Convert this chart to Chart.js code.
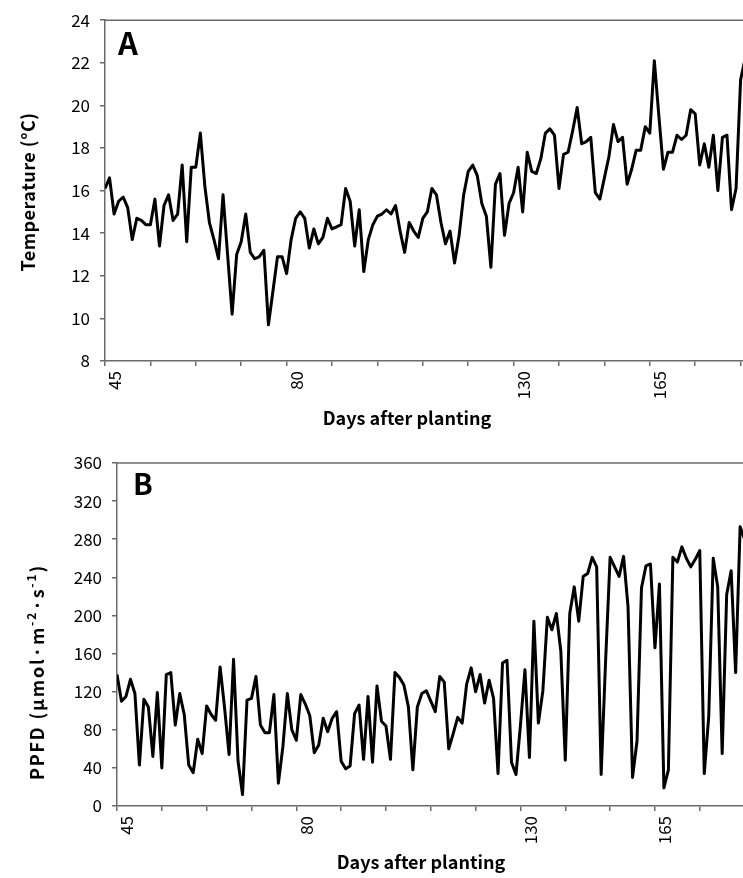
<!DOCTYPE html>
<html>
<head>
<meta charset="utf-8">
<script src="https://cdn.jsdelivr.net/npm/chart.js@4.4.1/dist/chart.umd.min.js"></script>
<style>
  html, body { margin: 0; padding: 0; background: #fff; }
  body { width: 743px; height: 878px; overflow: hidden; position: relative; }
  .panel { position: absolute; left: 0; }
  #panelA { top: 0; width: 766px; height: 440px; }
  #panelB { top: 440px; width: 770px; height: 438px; }
</style>
</head>
<body>
<div class="panel" id="panelA"><canvas id="tempChart"></canvas></div>
<div class="panel" id="panelB"><canvas id="ppfdChart"></canvas></div>
<script>
// daily mean air temperature (A) and daily PPFD (B), one value per record
const tempValues = [
  16.1, 16.6, 14.9, 15.5, 15.7, 15.2, 13.7, 14.7, 14.6, 14.4,
  14.4, 15.6, 13.4, 15.3, 15.8, 14.6, 14.9, 17.2, 13.6, 17.1,
  17.1, 18.7, 16.2, 14.5, 13.7, 12.8, 15.8, 13.0, 10.2, 13.0,
  13.6, 14.9, 13.1, 12.8, 12.9, 13.2, 9.7, 11.3, 12.9, 12.9,
  12.1, 13.7, 14.7, 15.0, 14.7, 13.3, 14.2, 13.5, 13.8, 14.7,
  14.2, 14.3, 14.4, 16.1, 15.5, 13.4, 15.1, 12.2, 13.7, 14.4,
  14.8, 14.9, 15.1, 14.9, 15.3, 14.1, 13.1, 14.5, 14.1, 13.8,
  14.7, 15.0, 16.1, 15.8, 14.5, 13.5, 14.1, 12.6, 13.9, 15.8,
  16.9, 17.2, 16.7, 15.4, 14.8, 12.4, 16.3, 16.8, 13.9, 15.4,
  15.9, 17.1, 15.0, 17.8, 16.9, 16.8, 17.5, 18.7, 18.9, 18.6,
  16.1, 17.7, 17.8, 18.8, 19.9, 18.2, 18.3, 18.5, 15.9, 15.6,
  16.6, 17.6, 19.1, 18.3, 18.5, 16.3, 17.0, 17.9, 17.9, 19.0,
  18.7, 22.1, 19.5, 17.0, 17.8, 17.8, 18.6, 18.4, 18.6, 19.8,
  19.6, 17.2, 18.2, 17.1, 18.6, 16.0, 18.5, 18.6, 15.1, 16.1,
  21.2, 22.2
];
const ppfdValues = [
  138, 110, 115, 133, 118, 43, 112, 104, 52, 119,
  40, 138, 140, 85, 118, 96, 43, 35, 70, 55,
  105, 96, 90, 146, 103, 54, 154, 47, 12, 111,
  113, 136, 85, 77, 77, 117, 24, 62, 118, 80,
  69, 117, 107, 95, 56, 64, 92, 78, 92, 99,
  47, 39, 42, 97, 106, 49, 115, 46, 126, 89,
  84, 49, 140, 135, 127, 104, 38, 104, 118, 121,
  110, 99, 136, 130, 60, 76, 93, 87, 128, 145,
  120, 138, 108, 132, 113, 34, 150, 153, 46, 33,
  85, 143, 51, 194, 87, 121, 198, 185, 202, 163,
  48, 202, 230, 194, 241, 244, 261, 251, 33, 153,
  261, 251, 241, 262, 209, 30, 68, 229, 252, 254,
  166, 233, 19, 38, 261, 256, 272, 260, 251, 259,
  268, 34, 94, 260, 230, 55, 222, 247, 140, 293,
  280
];

// x axis: a tick mark every 10 records, labelled only at these records
const tickStep = 10;
const labelIndex = [0, 40, 90, 120];
const labelText = ['45', '80', '130', '165'];

const tempRange = { min: 8, max: 24, step: 2 };
const ppfdRange = { min: 0, max: 360, step: 40 };

const axisColor = '#6b6b6b';
const fontFamily = '"Noto Sans CJK KR", "Noto Sans", sans-serif';

function toPoints(values) {
    return values.map((v, i) => ({ x: i, y: v }));
}

function dayLabel(value) {
    const k = labelIndex.indexOf(value);
    return k >= 0 ? labelText[k] : '';
}

// one line of bold text, pieces may be superscripts; centred on (cx, cy)
function drawTitle(ctx, title, vertical) {
    const parts = title.parts;
    ctx.save();
    ctx.translate(title.x, title.y);
    if (vertical) ctx.rotate(-Math.PI / 2);
    ctx.fillStyle = '#000';
    ctx.textAlign = 'left';
    ctx.textBaseline = 'middle';
    ctx.letterSpacing = (title.spacing || 0) + 'px';
    const fonts = parts.map(p => 'bold ' + (p.sup ? 12 : 18) + 'px ' + fontFamily);
    const widths = parts.map((p, i) => {
        ctx.font = fonts[i];
        return ctx.measureText(p.text).width;
    });
    let x = -widths.reduce((a, b) => a + b, 0) / 2;
    parts.forEach((p, i) => {
        ctx.font = fonts[i];
        ctx.fillText(p.text, x, p.sup ? -6 : 0);
        x += widths[i];
    });
    ctx.restore();
}

// top frame line, panel letter and the axis titles
const panelDecor = {
    id: 'panelDecor',
    afterDraw(chart, args, opts) {
        const { ctx, chartArea } = chart;
        ctx.save();
        ctx.strokeStyle = axisColor;
        ctx.lineWidth = 1.5;
        ctx.beginPath();
        ctx.moveTo(chartArea.left, chartArea.top);
        ctx.lineTo(chart.width, chartArea.top);
        ctx.stroke();
        ctx.fillStyle = '#000';
        ctx.font = 'bold ' + opts.size + 'px ' + fontFamily;
        ctx.textBaseline = 'alphabetic';
        ctx.fillText(opts.letter, chartArea.left + opts.dx, chartArea.top + opts.dy);
        ctx.restore();
        drawTitle(ctx, opts.xTitle, false);
        drawTitle(ctx, opts.yTitle, true);
    }
};

function makeChart(canvasId, values, range, cfg) {
    return new Chart(document.getElementById(canvasId), {
        type: 'line',
        data: {
            datasets: [{
                data: toPoints(values),
                borderColor: '#000',
                borderWidth: 3,
                borderJoinStyle: 'round',
                pointRadius: 0,
                tension: 0
            }]
        },
        options: {
            responsive: true,
            maintainAspectRatio: false,
            animation: false,
            layout: { padding: { top: cfg.top, left: 0, right: 0, bottom: 0 } },
            plugins: {
                legend: { display: false },
                tooltip: { enabled: false },
                panelDecor: cfg.decor
            },
            scales: {
                x: {
                    type: 'linear',
                    min: 0,
                    max: values.length - 1,
                    afterFit(scale) { scale.height = cfg.xHeight; },
                    border: { color: axisColor, width: 1.5 },
                    grid: { drawOnChartArea: false, tickLength: 5, color: axisColor, lineWidth: 1.5 },
                    ticks: {
                        stepSize: tickStep,
                        autoSkip: false,
                        includeBounds: false,
                        minRotation: 90,
                        maxRotation: 90,
                        labelOffset: 10,
                        padding: 5,
                        color: '#000',
                        font: { family: fontFamily, size: 17 },
                        callback: dayLabel
                    }
                },
                y: {
                    min: range.min,
                    max: range.max,
                    afterFit(scale) { scale.width = cfg.yWidth; },
                    border: { color: axisColor, width: 1.5 },
                    grid: { drawOnChartArea: false, tickLength: 5, color: axisColor, lineWidth: 1.5 },
                    ticks: {
                        stepSize: range.step,
                        padding: 10,
                        color: '#000',
                        font: { family: fontFamily, size: 17 }
                    }
                }
            }
        },
        plugins: [panelDecor]
    });
}

const xTitleParts = [{ text: 'Days after planting' }];

makeChart('tempChart', tempValues, tempRange, {
    top: 16, xHeight: 79, yWidth: 105,
    decor: {
        letter: 'A', size: 31, dx: 13, dy: 35,
        xTitle: { parts: xTitleParts, x: 407, y: 418 },
        yTitle: { parts: [{ text: 'Temperature (°C)' }], x: 28, y: 192, spacing: 0.5 }
    }
});

makeChart('ppfdChart', ppfdValues, ppfdRange, {
    top: 23, xHeight: 72, yWidth: 117,
    decor: {
        letter: 'B', size: 29, dx: 16, dy: 32,
        xTitle: { parts: xTitleParts, x: 421, y: 422 },
        yTitle: {
            parts: [
                { text: 'PPFD (μmol·m' }, { text: '-2', sup: true },
                { text: '·s' }, { text: '-1', sup: true }, { text: ')' }
            ],
            x: 37, y: 232, spacing: 1.8
        }
    }
});
</script>
</body>
</html>
